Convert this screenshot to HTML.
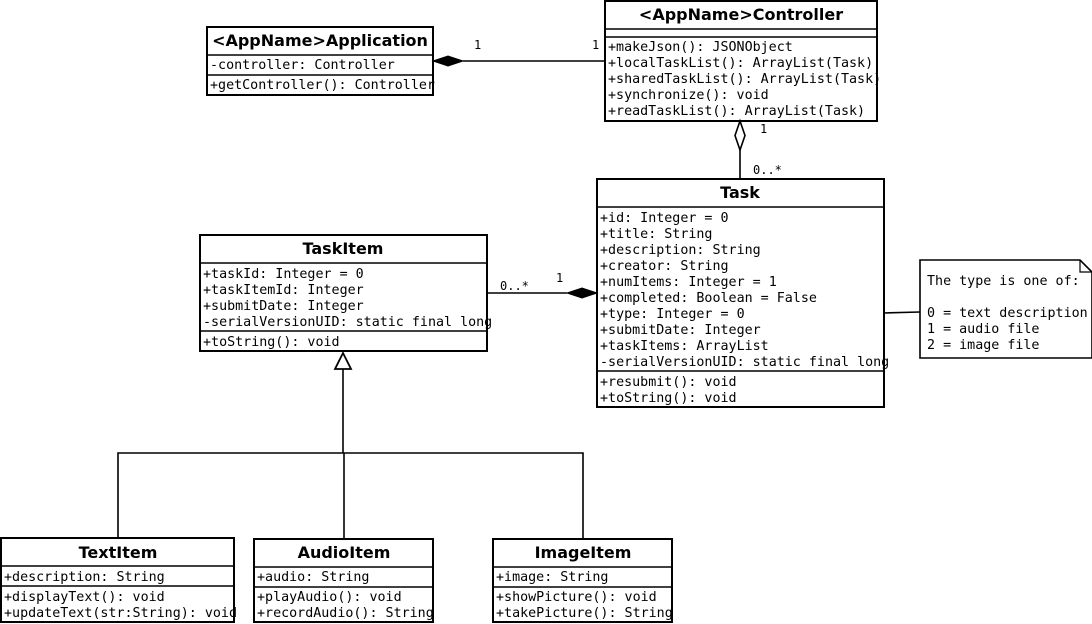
<!DOCTYPE html>
<html><head><meta charset="utf-8"><style>
html,body{margin:0;padding:0;background:#fff;}
svg{display:block;}
.m{font-family:"DejaVu Sans Mono","Liberation Mono",monospace;font-size:13.35px;fill:#000;}
.s{font-family:"DejaVu Sans Mono","Liberation Mono",monospace;font-size:12px;fill:#000;}
.t{font-family:"DejaVu Sans","Liberation Sans",sans-serif;font-size:16px;font-weight:bold;fill:#000;text-anchor:middle;}
.b{fill:#fff;stroke:#000;stroke-width:2;}
.l{stroke:#000;stroke-width:1.6;fill:none;}
</style></head><body>
<svg width="1092" height="624" viewBox="0 0 1092 624" xmlns="http://www.w3.org/2000/svg">
<!-- Application -->
<rect class="b" x="207" y="27" width="226" height="68"/>
<line class="l" x1="207" y1="55" x2="433" y2="55"/>
<line class="l" x1="207" y1="75" x2="433" y2="75"/>
<text class="t" x="320" y="46">&lt;AppName&gt;Application</text>
<text class="m" x="210" y="69">-controller: Controller</text>
<text class="m" x="210" y="89">+getController(): Controller</text>
<!-- Controller -->
<rect class="b" x="605" y="1" width="272" height="120"/>
<line class="l" x1="605" y1="29" x2="877" y2="29"/>
<line class="l" x1="605" y1="37" x2="877" y2="37"/>
<text class="t" x="741" y="20">&lt;AppName&gt;Controller</text>
<text class="m" x="608" y="51">+makeJson(): JSONObject</text>
<text class="m" x="608" y="67">+localTaskList(): ArrayList(Task)</text>
<text class="m" x="608" y="83">+sharedTaskList(): ArrayList(Task)</text>
<text class="m" x="608" y="99">+synchronize(): void</text>
<text class="m" x="608" y="115">+readTaskList(): ArrayList(Task)</text>
<!-- App-Controller -->
<line class="l" x1="463" y1="61" x2="605" y2="61"/>
<polygon points="433,61 448,56 463,61 448,66" fill="#000" stroke="#000"/>
<text class="s" x="474" y="49">1</text>
<text class="s" x="592" y="49">1</text>
<!-- Controller-Task -->
<line class="l" x1="740" y1="150" x2="740" y2="179"/>
<polygon points="740,121 745,135.5 740,150 735,135.5" fill="#fff" stroke="#000" stroke-width="1.6"/>
<text class="s" x="760" y="133">1</text>
<text class="s" x="753" y="174">0..*</text>
<!-- Task -->
<rect class="b" x="597" y="179" width="287" height="228"/>
<line class="l" x1="597" y1="207" x2="884" y2="207"/>
<line class="l" x1="597" y1="371" x2="884" y2="371"/>
<text class="t" x="740" y="198">Task</text>
<text class="m" x="600" y="222">+id: Integer = 0</text>
<text class="m" x="600" y="238">+title: String</text>
<text class="m" x="600" y="254">+description: String</text>
<text class="m" x="600" y="270">+creator: String</text>
<text class="m" x="600" y="286">+numItems: Integer = 1</text>
<text class="m" x="600" y="302">+completed: Boolean = False</text>
<text class="m" x="600" y="318">+type: Integer = 0</text>
<text class="m" x="600" y="334">+submitDate: Integer</text>
<text class="m" x="600" y="350">+taskItems: ArrayList</text>
<text class="m" x="600" y="366">-serialVersionUID: static final long</text>
<text class="m" x="600" y="386">+resubmit(): void</text>
<text class="m" x="600" y="402">+toString(): void</text>
<!-- Note -->
<line class="l" x1="884" y1="313" x2="920" y2="312"/>
<path d="M920,260 H1080 L1092,272 V358 H920 Z" fill="#fff" stroke="#000" stroke-width="1.6"/>
<path d="M1080,260 V272 H1092" fill="none" stroke="#000" stroke-width="1.2"/>
<text class="m" x="927" y="285">The type is one of:</text>
<text class="m" x="927" y="317">0 = text description</text>
<text class="m" x="927" y="333">1 = audio file</text>
<text class="m" x="927" y="349">2 = image file</text>
<!-- TaskItem -->
<rect class="b" x="200" y="235" width="287" height="116"/>
<line class="l" x1="200" y1="263" x2="487" y2="263"/>
<line class="l" x1="200" y1="331" x2="487" y2="331"/>
<text class="t" x="343" y="254">TaskItem</text>
<text class="m" x="203" y="278">+taskId: Integer = 0</text>
<text class="m" x="203" y="294">+taskItemId: Integer</text>
<text class="m" x="203" y="310">+submitDate: Integer</text>
<text class="m" x="203" y="326">-serialVersionUID: static final long</text>
<text class="m" x="203" y="346">+toString(): void</text>
<!-- TaskItem-Task -->
<line class="l" x1="487" y1="293" x2="567" y2="293"/>
<polygon points="597,293 582,288 567,293 582,298" fill="#000" stroke="#000"/>
<text class="s" x="500" y="290">0..*</text>
<text class="s" x="556" y="282">1</text>
<!-- Inheritance -->
<polygon points="343,353 351,369 335,369" fill="#fff" stroke="#000" stroke-width="1.8"/>
<line class="l" x1="343" y1="369" x2="343" y2="453"/>
<polyline class="l" points="118,538 118,453 583,453 583,539"/>
<line class="l" x1="344" y1="453" x2="344" y2="539"/>
<!-- TextItem -->
<rect class="b" x="1" y="538" width="233" height="84"/>
<line class="l" x1="1" y1="566" x2="234" y2="566"/>
<line class="l" x1="1" y1="586" x2="234" y2="586"/>
<text class="t" x="118" y="558">TextItem</text>
<text class="m" x="4" y="581">+description: String</text>
<text class="m" x="4" y="601">+displayText(): void</text>
<text class="m" x="4" y="617">+updateText(str:String): void</text>
<!-- AudioItem -->
<rect class="b" x="254" y="539" width="179" height="83"/>
<line class="l" x1="254" y1="567" x2="433" y2="567"/>
<line class="l" x1="254" y1="587" x2="433" y2="587"/>
<text class="t" x="344" y="558">AudioItem</text>
<text class="m" x="257" y="581">+audio: String</text>
<text class="m" x="257" y="601">+playAudio(): void</text>
<text class="m" x="257" y="617">+recordAudio(): String</text>
<!-- ImageItem -->
<rect class="b" x="493" y="539" width="179" height="83"/>
<line class="l" x1="493" y1="567" x2="672" y2="567"/>
<line class="l" x1="493" y1="587" x2="672" y2="587"/>
<text class="t" x="583" y="558">ImageItem</text>
<text class="m" x="496" y="581">+image: String</text>
<text class="m" x="496" y="601">+showPicture(): void</text>
<text class="m" x="496" y="617">+takePicture(): String</text>
</svg>
</body></html>
